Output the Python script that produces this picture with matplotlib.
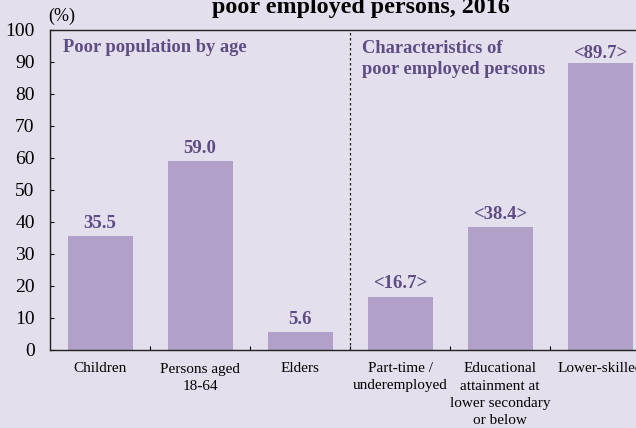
import matplotlib
matplotlib.use("Agg")
import matplotlib.pyplot as plt
import numpy as np

categories = ["Children", "Persons aged\n18-64", "Elders",
              "Part-time /\nunderemployed",
              "Educational\nattainment at\nlower secondary\nor below",
              "Lower-skilled"]
values = [35.5, 59.0, 5.6, 16.7, 38.4, 89.7]
value_labels = ["35.5", "59.0", "5.6", "<16.7>", "<38.4>", "<89.7>"]
yticks = list(range(0, 101, 10))

bg = "#E4DFEC"
bar_color = "#B1A1C9"
label_color = "#5E4C85"

plt.rcParams["font.family"] = ["Liberation Serif", "DejaVu Serif"]

fig = plt.figure(figsize=(6.36, 4.28), dpi=100, facecolor=bg)
ax = fig.add_axes([50 / 636, 78 / 428, 600 / 636, 320 / 428], facecolor=bg)

x = np.arange(len(categories))
ax.bar(x, values, width=0.65, color=bar_color, zorder=2)

# value labels sit just above each bar, kept clear of the top frame
for xi, v, lab in zip(x, values, value_labels):
    ax.text(xi, min(v + 4.0, 92.5), lab, ha="center", va="center",
            fontsize=13.5, fontweight="bold", color=label_color)

ax.set_xlim(-0.5, 5.5)
ax.set_ylim(0, 100)
ax.set_yticks(yticks)
ax.set_yticklabels([str(t) for t in yticks], fontsize=14)
ax.tick_params(axis="y", direction="in", length=3, width=0.8, pad=11)

ax.set_xticks(x)
ax.set_xticklabels(categories, fontsize=11, linespacing=1.4)
ax.tick_params(axis="x", length=0, pad=9)
ax.set_xticks(np.arange(0.5, 5, 1), minor=True)
ax.tick_params(axis="x", which="minor", direction="in", length=3, width=0.8)

for s in ["left", "bottom", "top", "right"]:
    ax.spines[s].set_linewidth(1.0)
    ax.spines[s].set_color("#222222")

ax.axvline(2.5, color="#222222", linestyle=(0, (2, 2)), linewidth=0.9, zorder=3)

ax.text(-0.37, 94.4, "Poor population by age", fontsize=13.3, fontweight="bold",
        color=label_color, va="center", ha="left")
ax.text(2.62, 91.0, "Characteristics of\npoor employed persons", fontsize=13.3,
        fontweight="bold", color=label_color, va="center", ha="left",
        linespacing=1.3)

fig.text(48 / 636, 1 - 16 / 428, "(%)", fontsize=13, ha="left", va="center")
fig.text(361 / 636, 1 - 13 / 428, "poor employed persons, 2016", fontsize=17.3,
         fontweight="bold", ha="center", va="baseline")

fig.savefig("out.png", dpi=100, facecolor=bg)
